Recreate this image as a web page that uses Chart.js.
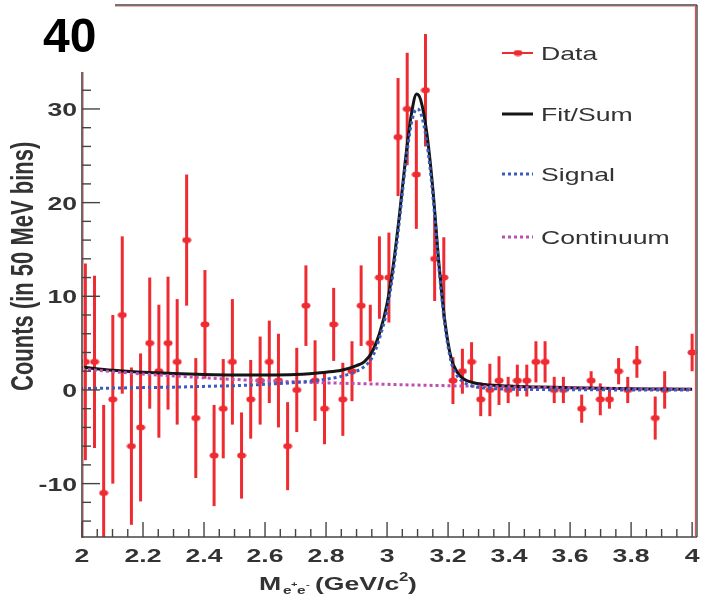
<!DOCTYPE html>
<html>
<head>
<meta charset="utf-8">
<script src="https://cdn.jsdelivr.net/npm/chart.js@4.4.0/dist/chart.umd.min.js"></script>
<style>
  html, body { margin: 0; padding: 0; background: #fff; }
  #wrap { position: relative; width: 703px; height: 594px; }
</style>
</head>
<body>
<div id="wrap"><canvas id="myChart"></canvas></div>
<script>
// data (mass bin centres in GeV/c^2, background-subtracted counts)
var massBins = [2.011, 2.041, 2.071, 2.101, 2.132, 2.162, 2.192, 2.222, 2.252, 2.282,
    2.312, 2.343, 2.373, 2.403, 2.433, 2.463, 2.493, 2.523, 2.553, 2.584,
    2.614, 2.644, 2.674, 2.704, 2.734, 2.764, 2.795, 2.825, 2.855, 2.885,
    2.915, 2.945, 2.975, 3.006, 3.036, 3.066, 3.096, 3.126, 3.156, 3.186,
    3.216, 3.247, 3.277, 3.307, 3.337, 3.367, 3.397, 3.427, 3.458, 3.488,
    3.518, 3.548, 3.578, 3.608, 3.638, 3.669, 3.699, 3.729, 3.759, 3.789,
    3.819, 3.849, 3.879, 3.910, 3.940, 3.970, 4.000];
var counts = [3, 3, -11, -1, 8, -6, -4, 5, 2, 5,
    3, 16, -3, 7, -7, -2, 3, -7, -1, 1,
    3, 1, -6, 0, 9, 1, -2, 7, -1, 2,
    9, 5, 12, 12, 27, 30, 23, 32, 14, 12,
    1, 2, 3, -1, 0, 1, 0, 1, 1, 3,
    3, 0, 0, null, -2, 1, -1, -1, 2, 0,
    3, null, -3, 0, null, null, 4];
var countErrors = [10.5, 9.2, 9.4, 9, 8.4, 8.4, 7.9, 7, 7.1, 7.1,
    6.7, 7, 6.4, 5.8, 5.4, 5.3, 6.7, 4.6, 4.2, 4.7,
    4.4, 5, 4.7, 4.5, 4.3, 4.3, 3.8, 3.9, 3.9, 3.2,
    4.3, 4.1, 4.4, 4.8, 6.3, 6, 5.8, 6, 4.5, 4.3,
    2.5, 2.4, 2.1, 1.8, 2.8, 2.6, 1.4, 1.7, 1.7, 2.2,
    2.2, 1.4, 1.4, null, 1.5, 1, 1.7, 1, 1.4, 1.4,
    1.7, null, 2.3, 2, null, null, 2];

// fit curves
var fitMass = [2.0, 2.1, 2.2, 2.3, 2.4, 2.5, 2.6, 2.7, 2.8, 2.85,
    2.9, 2.925, 2.95, 2.975, 3.0, 3.02, 3.04, 3.06, 3.08, 3.097,
    3.11, 3.13, 3.15, 3.17, 3.19, 3.21, 3.23, 3.25, 3.28, 3.32,
    3.4, 3.5, 3.6, 3.7, 3.8, 3.9, 4.0];
var fitSum = [2.45, 2.1, 1.9, 1.75, 1.65, 1.6, 1.6, 1.65, 1.9, 2.1,
    2.6, 3.0, 4.0, 6.0, 9.2, 13.2, 18.5, 24.5, 29.5, 31.6,
    31.0, 27.5, 21.5, 13.5, 7.2, 3.4, 1.9, 1.2, 0.8, 0.58,
    0.41, 0.31, 0.24, 0.18, 0.13, 0.1, 0.07];
var fitSignal = [0.15, 0.2, 0.25, 0.3, 0.38, 0.46, 0.6, 0.8, 1.15, 1.45,
    2.0, 2.5, 3.4, 5.5, 8.6, 12.6, 17.9, 23.9, 28.5, 30.0,
    29.6, 26.5, 20.8, 13.0, 6.8, 3.0, 1.5, 0.85, 0.4, 0.2,
    0.08, 0.04, 0.02, 0.01, 0, 0, 0];
var fitContinuum = [2.25, 1.95, 1.7, 1.5, 1.3, 1.12, 0.98, 0.86, 0.76, 0.72,
    0.68, 0.66, 0.64, 0.62, 0.6, 0.58, 0.56, 0.55, 0.53, 0.52,
    0.51, 0.5, 0.48, 0.47, 0.46, 0.45, 0.43, 0.42, 0.4, 0.38,
    0.33, 0.27, 0.22, 0.17, 0.13, 0.1, 0.07];

var xTicks = [2, 2.2, 2.4, 2.6, 2.8, 3, 3.2, 3.4, 3.6, 3.8, 4];
var yTicks = [-10, 0, 10, 20, 30];
var legendNames = ['Data', 'Fit/Sum', 'Signal', 'Continuum'];

var red = '#ef2b32';
var black = '#151515';
var blue = '#3b5cbf';
var magenta = '#bd4fb3';
var axisGrey = '#444';
var textGrey = '#333';

// squashed round marker like the ROOT one
var marker = document.createElement('canvas');
marker.width = 10; marker.height = 7;
var mc = marker.getContext('2d');
mc.fillStyle = red;
mc.beginPath(); mc.ellipse(5, 3.5, 4.5, 3, 0, 0, 2 * Math.PI); mc.fill();

function pts(xs, ys) {
    return xs.map(function (x, i) { return { x: x, y: ys[i] }; })
        .filter(function (p) { return p.y !== null; });
}

function wideText(ctx, txt, x, y, font, align, color) {
    ctx.save();
    ctx.font = font;
    ctx.fillStyle = color;
    ctx.translate(x, y);
    ctx.scale(1.4, 1);
    ctx.textAlign = align;
    ctx.textBaseline = 'alphabetic';
    ctx.fillText(txt, 0, 0);
    ctx.restore();
}

function line(ctx, x1, y1, x2, y2, color, w, dash) {
    ctx.save();
    ctx.strokeStyle = color;
    ctx.lineWidth = w;
    ctx.setLineDash(dash || []);
    ctx.beginPath(); ctx.moveTo(x1, y1); ctx.lineTo(x2, y2); ctx.stroke();
    ctx.restore();
}

var rootStyle = {
    id: 'rootStyle',
    beforeDatasetsDraw: function (chart) {
        var ctx = chart.ctx, a = chart.chartArea;
        var xs = chart.scales.x, ys = chart.scales.y;
        ctx.save();
        ctx.beginPath(); ctx.rect(a.left, a.top, a.right - a.left, a.bottom - a.top); ctx.clip();
        ctx.strokeStyle = red;
        ctx.lineWidth = 3;
        for (var i = 0; i < massBins.length; i++) {
            if (counts[i] === null) continue;
            var px = xs.getPixelForValue(massBins[i]);
            ctx.beginPath();
            ctx.moveTo(px, ys.getPixelForValue(counts[i] + countErrors[i]));
            ctx.lineTo(px, ys.getPixelForValue(counts[i] - countErrors[i]));
            ctx.stroke();
        }
        ctx.restore();
    },
    afterDraw: function (chart) {
        var ctx = chart.ctx, a = chart.chartArea;
        var xs = chart.scales.x, ys = chart.scales.y;

        // frame
        line(ctx, a.left + 1.5, 72, a.left + 1.5, a.bottom, '#f3a0a0', 1);
        line(ctx, a.left, 72, a.left, a.bottom + 1, axisGrey, 1.6);
        line(ctx, a.left, a.bottom, a.right, a.bottom, axisGrey, 1.6);
        line(ctx, 115, a.top + 1.5, a.right, a.top + 1.5, '#f3b0b0', 1);
        line(ctx, 115, a.top, a.right, a.top, axisGrey, 1.6);
        line(ctx, a.right - 1.5, a.top, a.right - 1.5, a.bottom, '#e05050', 1.2);
        line(ctx, a.right, a.top, a.right, a.bottom, axisGrey, 1.4);

        // x ticks, pointing into the frame
        for (var v = 2; v <= 4.0001; v += 0.05) {
            var px = xs.getPixelForValue(v);
            var major = Math.abs(v * 5 - Math.round(v * 5)) < 0.001;
            line(ctx, px, a.bottom, px, a.bottom - (major ? 15 : 8), axisGrey, 1.4);
        }
        // y ticks
        for (var w = -14; w <= 40; w += 2) {
            var py = ys.getPixelForValue(w);
            if (py < 75) continue;
            var maj = w % 10 === 0;
            line(ctx, a.left, py, a.left + (maj ? 18 : 9), py, axisGrey, 1.4);
        }

        // tick labels
        xTicks.forEach(function (t) {
            wideText(ctx, String(t), xs.getPixelForValue(t), 562, 'bold 19px "Liberation Sans", Arial', 'center', textGrey);
        });
        yTicks.forEach(function (t) {
            wideText(ctx, String(t), 77, ys.getPixelForValue(t) + 7, 'bold 19px "Liberation Sans", Arial', 'right', textGrey);
        });

        // the big pasted "40"
        ctx.save();
        ctx.font = 'bold 48px "Liberation Sans", Arial';
        ctx.fillStyle = '#000';
        ctx.textAlign = 'left';
        ctx.fillText('40', 43, 52);
        ctx.restore();

        // y title
        ctx.save();
        ctx.translate(33, 391);
        ctx.rotate(-Math.PI / 2);
        ctx.scale(1, 1.4);
        ctx.font = 'bold 22px "Liberation Sans", Arial';
        ctx.fillStyle = textGrey;
        ctx.textAlign = 'left';
        ctx.fillText('Counts (in 50 MeV bins)', 0, 0);
        ctx.restore();

        // x title M_{e+e-} (GeV/c^2)
        var f = '"Liberation Sans", Arial';
        wideText(ctx, 'M', 259, 590, 'bold 19px ' + f, 'left', textGrey);
        wideText(ctx, 'e', 283, 594, 'bold 11px ' + f, 'left', textGrey);
        wideText(ctx, '+', 291, 587, 'bold 8px ' + f, 'left', textGrey);
        wideText(ctx, 'e', 297, 594, 'bold 11px ' + f, 'left', textGrey);
        wideText(ctx, '-', 306, 587, 'bold 8px ' + f, 'left', textGrey);
        wideText(ctx, '(GeV/c', 315, 590, 'bold 19px ' + f, 'left', textGrey);
        wideText(ctx, '2', 399, 581, 'bold 12px ' + f, 'left', textGrey);
        wideText(ctx, ')', 408, 590, 'bold 19px ' + f, 'left', textGrey);

        // legend
        var ly = [53, 114, 174, 237];
        var styles = [
            { c: red, w: 2, d: [] },
            { c: black, w: 3, d: [] },
            { c: blue, w: 3, d: [3, 3] },
            { c: magenta, w: 3, d: [3, 3] }
        ];
        legendNames.forEach(function (name, i) {
            line(ctx, 502, ly[i], 533, ly[i], styles[i].c, styles[i].w, styles[i].d);
            if (i === 0) ctx.drawImage(marker, 513, ly[i] - 3.5);
            wideText(ctx, name, 541, ly[i] + 7, '19px "Liberation Sans", Arial', 'left', textGrey);
        });
    }
};

var myChart = new Chart('myChart', {
    type: 'scatter',
    data: {
        datasets: [{
            label: 'Data',
            data: pts(massBins, counts),
            pointStyle: marker,
            pointRadius: 4,
            showLine: false,
            order: 4
        }, {
            label: 'Fit/Sum',
            data: pts(fitMass, fitSum),
            showLine: true,
            borderColor: black,
            borderWidth: 3,
            pointRadius: 0,
            cubicInterpolationMode: 'monotone',
            order: 3
        }, {
            label: 'Continuum',
            data: pts(fitMass, fitContinuum),
            showLine: true,
            borderColor: magenta,
            borderWidth: 3,
            borderDash: [3, 3],
            pointRadius: 0,
            cubicInterpolationMode: 'monotone',
            order: 2
        }, {
            label: 'Signal',
            data: pts(fitMass, fitSignal),
            showLine: true,
            borderColor: blue,
            borderWidth: 3,
            borderDash: [3, 3],
            pointRadius: 0,
            cubicInterpolationMode: 'monotone',
            order: 1
        }]
    },
    options: {
        responsive: true,
        maintainAspectRatio: false,
        animation: false,
        layout: { padding: { top: 5, right: 6, left: 0, bottom: 0 } },
        plugins: {
            legend: { display: false },
            tooltip: { enabled: false }
        },
        scales: {
            x: {
                type: 'linear', min: 2, max: 4.016,
                grid: { display: false }, border: { display: false },
                ticks: { display: false },
                afterBuildTicks: function (s) { s.ticks = xTicks.map(function (v) { return { value: v }; }); },
                afterFit: function (s) { s.height = 57; }
            },
            y: {
                type: 'linear', min: -15.7, max: 41.1,
                grid: { display: false }, border: { display: false },
                ticks: { display: false },
                afterBuildTicks: function (s) { s.ticks = yTicks.map(function (v) { return { value: v }; }); },
                afterFit: function (s) { s.width = 82; }
            }
        }
    },
    plugins: [rootStyle]
});
</script>
</body>
</html>
